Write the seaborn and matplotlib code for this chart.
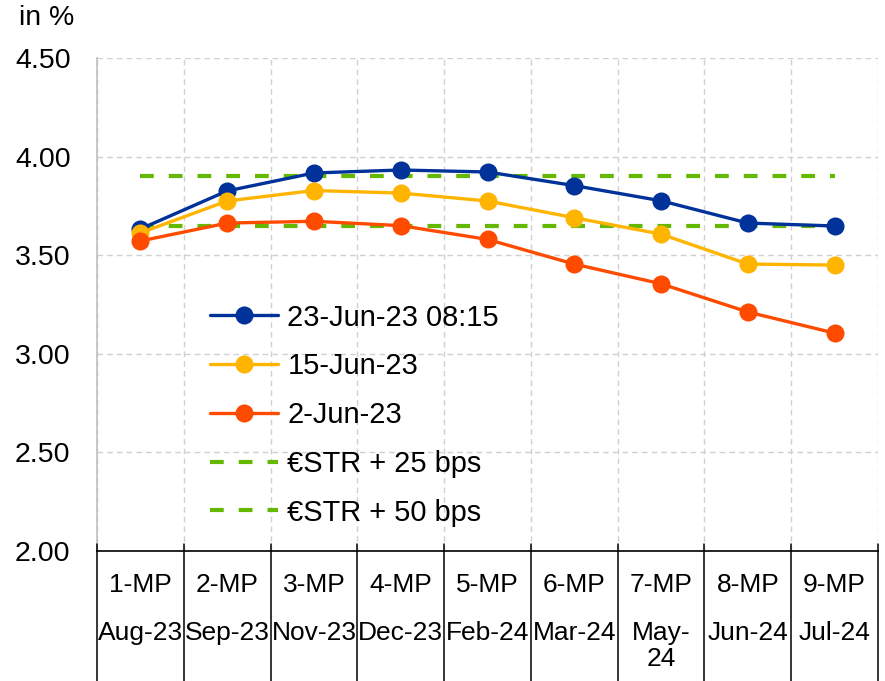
import matplotlib
matplotlib.use("Agg")
import matplotlib.pyplot as plt
import seaborn as sns
import numpy as np
import pandas as pd

mp_labels = ["1-MP", "2-MP", "3-MP", "4-MP", "5-MP", "6-MP", "7-MP", "8-MP", "9-MP"]
month_labels = ["Aug-23", "Sep-23", "Nov-23", "Dec-23", "Feb-24", "Mar-24", "May-\n24", "Jun-24", "Jul-24"]

s_23jun = [3.633, 3.826, 3.917, 3.932, 3.922, 3.853, 3.776, 3.663, 3.648]
s_15jun = [3.613, 3.775, 3.828, 3.815, 3.775, 3.690, 3.607, 3.455, 3.450]
s_2jun = [3.572, 3.663, 3.672, 3.650, 3.580, 3.455, 3.355, 3.212, 3.105]
estr_25 = [3.65] * 9
estr_50 = [3.90] * 9

series_names = ["23-Jun-23 08:15", "15-Jun-23", "2-Jun-23", "€STR + 25 bps", "€STR + 50 bps"]
colors = ["#003299", "#FFB400", "#FF4B00", "#65B800", "#65B800"]

sns.set_theme(style="white")
plt.rcParams["font.family"] = ["Liberation Sans", "DejaVu Sans"]
plt.rcParams["text.color"] = "black"

fig = plt.figure(figsize=(8.85, 6.81), dpi=100)
ax = fig.add_axes([97 / 885, 1 - 551 / 681, 781 / 885, 493 / 681])

x = np.arange(len(mp_labels))
df = pd.DataFrame({"x": x, "s1": s_23jun, "s2": s_15jun, "s3": s_2jun, "e25": estr_25, "e50": estr_50})

# reference dashed lines (under the curves)
for col, name in zip(["e25", "e50"], series_names[3:]):
    sns.lineplot(data=df, x="x", y=col, ax=ax, color=colors[3], linewidth=3.0,
                 dashes=False, label=name, zorder=2)
for l in ax.lines:
    l.set_dashes((3.3, 3.6))
for col, name, c in zip(["s1", "s2", "s3"], series_names[:3], colors[:3]):
    sns.lineplot(data=df, x="x", y=col, ax=ax, color=c, linewidth=2.4, marker="o",
                 markersize=13, markeredgewidth=0, label=name, zorder=3)

ax.set_xlim(-0.5, 8.5)
ax.set_ylim(2.0, 4.5)
ax.set_yticks([2.0, 2.5, 3.0, 3.5, 4.0, 4.5])
ax.set_yticklabels([f"{v:.2f}" for v in [2.0, 2.5, 3.0, 3.5, 4.0, 4.5]])
ax.set_xticks(x)
ax.set_xticklabels(mp_labels)
ax.set_xticks(np.arange(-0.5, 9.0, 1.0), minor=True)
ax.set_xlabel("")
ax.set_ylabel("")

ax.tick_params(axis="y", length=0, pad=19, labelsize=20.5, labelcolor="black")
ax.tick_params(axis="x", which="major", length=0, pad=16, labelsize=19, labelcolor="black")
ax.tick_params(axis="x", which="minor", length=0)

ax.grid(True, axis="y", which="major", color="#D0D0D0", linestyle=(0, (4, 3)), linewidth=1)
ax.grid(True, axis="x", which="minor", color="#D0D0D0", linestyle=(0, (4, 3)), linewidth=1)
ax.grid(False, axis="x", which="major")

for side in ["top", "right"]:
    ax.spines[side].set_visible(False)
ax.spines["left"].set_color("#BFBFBF")
ax.spines["left"].set_linewidth(1.2)
ax.spines["bottom"].set_color("black")
ax.spines["bottom"].set_linewidth(1.2)

# category separators below the axis
xt = ax.get_xaxis_transform()
for b in np.arange(-0.5, 9.0, 1.0):
    ax.plot([b, b], [0.014, -0.27], transform=xt, color="black", linewidth=1.1,
            clip_on=False, zorder=5)

# second row of x labels
for i, lab in enumerate(month_labels):
    ax.text(i, -0.142, lab, transform=xt, ha="center", va="top", fontsize=19,
            linespacing=1.1, color="black")

# legend
handles, labels = ax.get_legend_handles_labels()
order = [labels.index(n) for n in series_names]
leg = ax.legend([handles[i] for i in order], [labels[i] for i in order],
                loc="upper left", bbox_to_anchor=(0.145, 0.502), frameon=False,
                fontsize=20.9, handlelength=2.35, handletextpad=0.31, labelspacing=0.715,
                borderpad=0, borderaxespad=0, labelcolor="black")
for h in leg.get_lines()[3:]:
    h.set_dashes((3.3, 3.6))

fig.text(19 / 885, 1 - 18 / 681, "in %", ha="left", va="center", fontsize=20.5, color="black")

fig.savefig("out.png", dpi=100)
